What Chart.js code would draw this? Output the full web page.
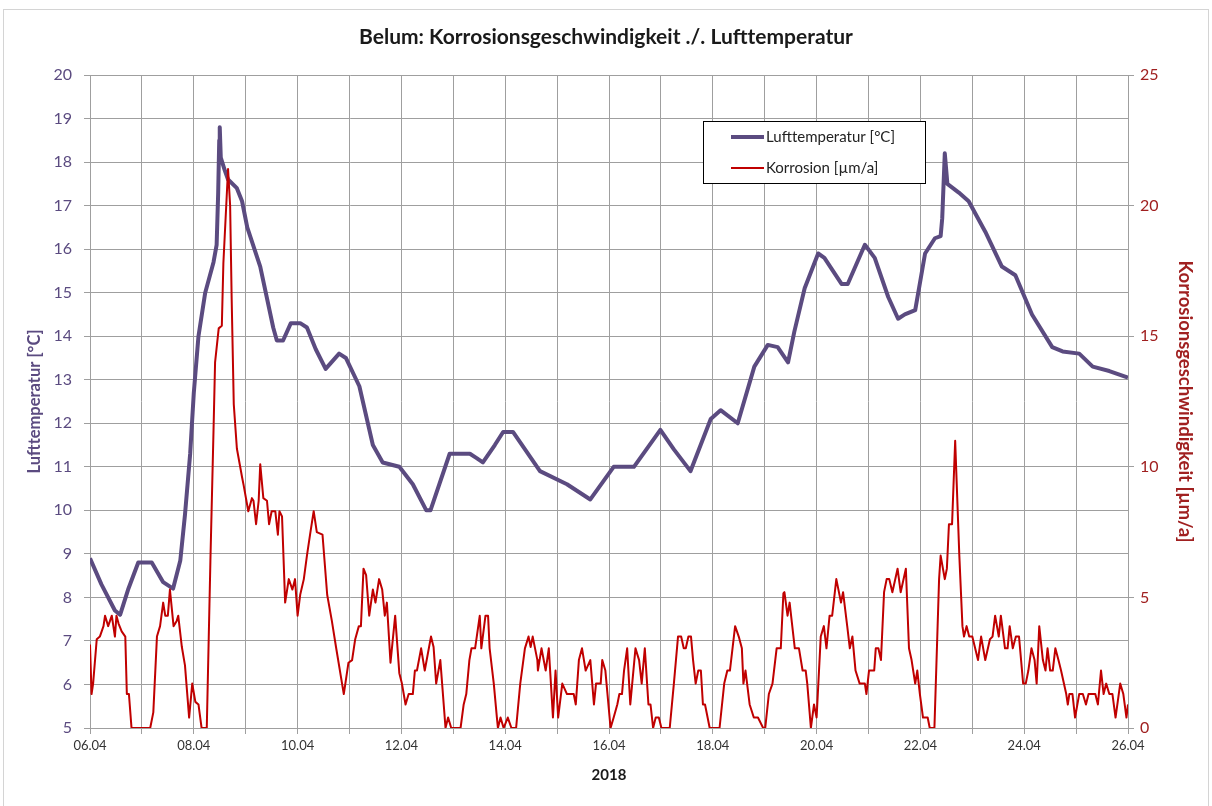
<!DOCTYPE html>
<html lang="de">
<head>
<meta charset="UTF-8">
<title>Belum: Korrosionsgeschwindigkeit ./. Lufttemperatur</title>
<script src="https://cdn.jsdelivr.net/npm/chart.js"></script>
<style>
  html, body { margin: 0; padding: 0; background: #fff; }
  #wrap { position: relative; width: 1212px; height: 806px; }
</style>
</head>
<body>
<div id="wrap"><canvas id="chart"></canvas></div>
<script>
// day labels, one per grid line (06.04 ... 26.04); every second one is printed
const dayLabels = ['06.04','07.04','08.04','09.04','10.04','11.04','12.04','13.04','14.04','15.04',
  '16.04','17.04','18.04','19.04','20.04','21.04','22.04','23.04','24.04','25.04','26.04'];

// air temperature [°C], time in days since 06.04 00:00
const tempDays = [0, 0.22, 0.48, 0.58, 0.74, 0.93, 1.19, 1.41, 1.6, 1.74, 1.83, 1.93, 2.0, 2.09, 2.22,
  2.38, 2.44, 2.47, 2.49, 2.5, 2.52, 2.6, 2.66, 2.83, 2.93, 3.03, 3.28, 3.53, 3.6, 3.72, 3.87, 4.05,
  4.18, 4.35, 4.54, 4.8, 4.93, 5.19, 5.45, 5.64, 5.96, 6.22, 6.48, 6.56, 6.93, 7.32, 7.45, 7.57, 7.8,
  7.96, 8.15, 8.67, 9.19, 9.64, 10.09, 10.48, 10.99, 11.25, 11.57, 11.96, 12.15, 12.48, 12.8, 13.06,
  13.25, 13.45, 13.57, 13.77, 14.03, 14.15, 14.48, 14.6, 14.93, 15.12, 15.38, 15.57, 15.7, 15.9, 16.09,
  16.28, 16.39, 16.42, 16.47, 16.52, 16.74, 16.93, 17.25, 17.57, 17.83, 18.15, 18.54, 18.74, 19.06,
  19.32, 19.64, 20];
const tempValues = [8.9, 8.3, 7.7, 7.6, 8.2, 8.8, 8.8, 8.35, 8.2, 8.85, 9.9, 11.3, 12.7, 14.0, 15.0,
  15.7, 16.1, 17.3, 18.5, 18.8, 18.1, 17.8, 17.6, 17.4, 17.1, 16.5, 15.6, 14.2, 13.9, 13.9, 14.3, 14.3,
  14.2, 13.7, 13.25, 13.6, 13.5, 12.85, 11.5, 11.1, 11.0, 10.6, 10.0, 10.0, 11.3, 11.3, 11.2, 11.1, 11.5,
  11.8, 11.8, 10.9, 10.6, 10.25, 11.0, 11.0, 11.85, 11.4, 10.9, 12.1, 12.3, 12.0, 13.3, 13.8,
  13.75, 13.4, 14.1, 15.1, 15.9, 15.8, 15.2, 15.2, 16.1, 15.8, 14.9, 14.4, 14.5, 14.6, 15.9,
  16.25, 16.3, 16.7, 18.2, 17.5, 17.3, 17.1, 16.4, 15.6, 15.4, 14.5, 13.75, 13.65, 13.6,
  13.3, 13.2, 13.05];

// corrosion rate [µm/a], time in days since 06.04 00:00
const corrDays = [0, 0.03, 0.06, 0.13, 0.19, 0.26, 0.29, 0.35, 0.42, 0.45, 0.48, 0.51, 0.55, 0.61, 0.68,
  0.71, 0.75, 0.8, 1.16, 1.22, 1.29, 1.35, 1.41, 1.45, 1.5, 1.54, 1.61, 1.67, 1.7, 1.77, 1.83, 1.91,
  1.97, 2.03, 2.09, 2.15, 2.25, 2.32, 2.38, 2.41, 2.48, 2.54, 2.57, 2.66, 2.7, 2.73, 2.77, 2.83, 2.93,
  2.96, 3.05, 3.12, 3.15, 3.2, 3.25, 3.28, 3.34, 3.41, 3.45, 3.5, 3.57, 3.62, 3.65, 3.7, 3.76, 3.83,
  3.9, 3.95, 4.0, 4.05, 4.12, 4.18, 4.24, 4.31, 4.37, 4.48, 4.57, 4.66, 4.74, 4.89, 4.98, 5.05, 5.11,
  5.18, 5.22, 5.27, 5.32, 5.38, 5.45, 5.5, 5.57, 5.63, 5.68, 5.72, 5.79, 5.88, 5.96, 6.01, 6.08, 6.14,
  6.22, 6.26, 6.3, 6.38, 6.45, 6.57, 6.62, 6.67, 6.75, 6.85, 6.9, 6.96, 7.14, 7.2, 7.25, 7.31, 7.35,
  7.42, 7.51, 7.54, 7.62, 7.67, 7.7, 7.78, 7.84, 7.86, 7.91, 7.97, 8.05, 8.12, 8.21, 8.29, 8.38, 8.45,
  8.49, 8.53, 8.62, 8.63, 8.7, 8.78, 8.84, 8.92, 8.97, 9.02, 9.1, 9.19, 9.32, 9.36, 9.42, 9.48, 9.55,
  9.64, 9.71, 9.75, 9.84, 9.87, 9.93, 10.03, 10.09, 10.16, 10.2, 10.25, 10.29, 10.35, 10.41, 10.51,
  10.58, 10.63, 10.69, 10.76, 10.8, 10.85, 10.9, 10.96, 11.01, 11.17, 11.25, 11.33, 11.39, 11.44,
  11.48, 11.53, 11.58, 11.62, 11.67, 11.72, 11.77, 11.81, 11.85, 11.94, 12.13, 12.22, 12.28, 12.33,
  12.43, 12.5, 12.56, 12.59, 12.63, 12.71, 12.79, 12.87, 12.97, 13.01, 13.08, 13.15, 13.23, 13.31,
  13.36, 13.38, 13.44, 13.48, 13.58, 13.66, 13.73, 13.79, 13.82, 13.89, 13.95, 14.0, 14.08, 14.14,
  14.19, 14.25, 14.3, 14.38, 14.43, 14.47, 14.51, 14.59, 14.64, 14.69, 14.75, 14.83, 14.93, 14.96,
  15.01, 15.11, 15.14, 15.19, 15.24, 15.3, 15.35, 15.4, 15.46, 15.56, 15.62, 15.72, 15.78, 15.83,
  15.9, 15.94, 15.99, 16.05, 16.14, 16.18, 16.27, 16.36, 16.39, 16.47, 16.51, 16.55, 16.61, 16.67,
  16.75, 16.81, 16.84, 16.89, 16.94, 17.0, 17.11, 17.17, 17.25, 17.34, 17.39, 17.44, 17.51, 17.55,
  17.63, 17.68, 17.72, 17.78, 17.84, 17.9, 17.98, 18.03, 18.08, 18.14, 18.2, 18.24, 18.29, 18.36,
  18.41, 18.45, 18.5, 18.55, 18.6, 18.66, 18.71, 18.81, 18.84, 18.87, 18.93, 18.98, 19.06, 19.13,
  19.19, 19.24, 19.37, 19.42, 19.48, 19.53, 19.58, 19.64, 19.7, 19.76, 19.85, 19.91, 19.97, 20.0];
const corrValues = [3.2, 1.3, 1.7, 3.4, 3.5, 3.9, 4.3, 3.9, 4.3, 3.9, 3.5, 4.3, 4.0, 3.7, 3.5,
  1.3, 1.3, 0, 0, 0.6, 3.5, 3.9, 4.8, 4.3, 4.3, 5.3, 3.9, 4.1, 4.3, 3.1, 2.4, 0.4,
  1.7, 1.0, 0.9, 0, 0, 6.4, 11.4, 14.0, 15.3, 15.4, 17.8, 21.4, 20.0, 16.4, 12.4, 10.7, 9.6,
  9.3, 8.3, 8.8, 8.7, 7.8, 8.7, 10.1, 8.8, 8.7, 7.8, 8.3, 8.3, 7.4, 8.3, 8.1, 4.8, 5.7,
  5.3, 5.7, 4.3, 5.1, 5.7, 6.6, 7.4, 8.3, 7.5, 7.4, 5.1, 4.1, 3.1, 1.3, 2.5, 2.6, 3.4,
  3.9, 3.9, 6.1, 5.85, 4.3, 5.3, 4.8, 5.7, 5.3, 4.3, 4.8, 2.5, 4.3, 2.1, 1.7, 0.9, 1.3,
  1.3, 2.2, 2.2, 3.05, 2.2, 3.5, 3.1, 1.7, 2.6, 0, 0.4, 0, 0, 0.9, 1.3, 2.6, 3.05,
  3.05, 4.3, 3.05, 4.3, 4.3, 3.05, 1.7, 0.4, 0, 0.4, 0, 0.4, 0, 0, 1.7, 3.05, 3.5,
  3.1, 3.5, 2.6, 2.2, 3.05, 2.2, 3.05, 0.4, 2.2, 0.4, 1.7, 1.3, 1.3, 0.9, 2.6, 3.05, 2.2,
  2.6, 0.9, 1.7, 1.7, 2.6, 2.2, 0, 0.4, 0.9, 1.3, 1.3, 2.2, 3.05, 0.9, 3.05,
  2.6, 1.7, 3.05, 0.9, 0.9, 0, 0.4, 0.4, 0, 0, 1.7, 3.5, 3.5, 3.05,
  3.05, 3.5, 3.5, 2.6, 1.7, 2.2, 2.2, 0.9, 0.9, 0, 0, 1.7, 2.2, 2.2,
  3.9, 3.5, 3.05, 1.7, 2.2, 0.9, 0.4, 0.4, 0, 0, 1.3, 1.7, 3.05, 3.05,
  5.15, 5.2, 4.3, 4.8, 3.05, 3.05, 2.2, 2.2, 1.7, 0, 0.9, 0.4, 3.5, 3.9,
  3.05, 4.3, 4.3, 5.7, 5.2, 4.8, 5.2, 3.9, 3.05, 3.5, 2.2, 1.7, 1.7, 1.3,
  2.2, 2.2, 3.05, 3.05, 2.6, 5.2, 5.7, 5.7, 5.2, 6.1, 5.2, 6.1, 3.05, 2.6,
  1.7, 2.2, 1.3, 0.4, 0.4, 0, 0, 5.7, 6.6, 5.7, 6.1, 7.8, 7.8, 11.0,
  6.6, 3.9, 3.5, 3.9, 3.5, 3.5, 2.6, 3.5, 2.6, 3.4, 3.5, 4.3, 3.5, 4.3,
  3.05, 3.05, 3.9, 3.05, 3.5, 3.5, 1.7, 1.7, 2.2, 3.05, 2.6, 1.7, 3.9, 2.6,
  2.2, 3.05, 2.2, 2.2, 3.05, 2.6, 2.2, 1.3, 0.9, 1.3, 1.3, 0.4, 1.3, 1.3,
  0.9, 1.3, 1.3, 0.9, 2.2, 1.3, 1.7, 1.3, 1.3, 0.4, 1.7, 1.3, 0.4, 0.9];

const TEMP_COLOR = '#5b4b80';
const CORR_COLOR = '#c00000';
const GRID_COLOR = '#9f9f9f';

Chart.defaults.font.family = 'Lato, "Open Sans", sans-serif';

const toPoints = (xs, ys) => xs.map((x, i) => ({ x: x, y: ys[i] }));

// white background and thin outer frame
const chartFrame = {
  id: 'chartFrame',
  beforeDraw(chart) {
    const ctx = chart.ctx;
    ctx.save();
    ctx.fillStyle = '#ffffff';
    ctx.fillRect(0, 0, chart.width, chart.height);
    ctx.strokeStyle = '#d4d4d4';
    ctx.lineWidth = 1;
    ctx.strokeRect(3.5, 9.5, chart.width - 7, chart.height - 5);
    ctx.restore();
  }
};

// boxed legend inside the plot, like the spreadsheet original
const boxLegend = {
  id: 'boxLegend',
  afterDatasetsDraw(chart) {
    const ctx = chart.ctx;
    const x = 703, y = 121, w = 222, h = 62;
    ctx.save();
    ctx.fillStyle = '#ffffff';
    ctx.fillRect(x, y, w, h);
    ctx.strokeStyle = '#000000';
    ctx.lineWidth = 1;
    ctx.strokeRect(x + 0.5, y + 0.5, w, h);
    ctx.font = '15px Lato, "Open Sans", sans-serif';
    ctx.textBaseline = 'middle';
    ctx.fillStyle = '#222222';
    chart.data.datasets.forEach((ds, i) => {
      const rowY = y + 16 + i * 31;
      ctx.strokeStyle = ds.borderColor;
      ctx.lineWidth = ds.borderWidth;
      ctx.beginPath();
      ctx.moveTo(x + 28, rowY);
      ctx.lineTo(x + 61, rowY);
      ctx.stroke();
      ctx.fillText(ds.label, x + 63, rowY);
    });
    ctx.restore();
  }
};

new Chart(document.getElementById('chart'), {
  type: 'line',
  data: {
    datasets: [
      {
        label: 'Lufttemperatur [°C]',
        data: toPoints(tempDays, tempValues),
        yAxisID: 'yT',
        borderColor: TEMP_COLOR,
        borderWidth: 4,
        pointRadius: 0,
        tension: 0,
        borderJoinStyle: 'round',
        order: 1
      },
      {
        label: 'Korrosion [µm/a]',
        data: toPoints(corrDays, corrValues),
        yAxisID: 'yC',
        borderColor: CORR_COLOR,
        borderWidth: 2,
        pointRadius: 0,
        tension: 0,
        borderJoinStyle: 'round',
        order: 0
      }
    ]
  },
  options: {
    responsive: true,
    maintainAspectRatio: false,
    animation: false,
    layout: { padding: 0 },
    plugins: {
      legend: { display: false },
      tooltip: { enabled: false },
      title: {
        display: true,
        text: 'Belum: Korrosionsgeschwindigkeit ./. Lufttemperatur',
        color: '#1a1a1a',
        font: { size: 21, weight: 'bold' },
        lineHeight: 1.2,
        padding: { top: 25, bottom: 24.8 }
      }
    },
    scales: {
      x: {
        type: 'linear',
        min: 0,
        max: 20,
        afterFit: (s) => { s.height = 78; },
        ticks: {
          stepSize: 1,
          autoSkip: false,
          maxRotation: 0,
          padding: 4,
          color: '#333333',
          font: { size: 13 },
          callback: (v) => (v % 2 === 0 ? dayLabels[v] : '')
        },
        grid: { color: GRID_COLOR, tickLength: 6, tickColor: GRID_COLOR },
        border: { color: GRID_COLOR },
        title: {
          display: true,
          text: '2018',
          color: '#1a1a1a',
          font: { size: 15, weight: 'bold' },
          padding: { top: 0, bottom: 22 }
        }
      },
      yT: {
        position: 'left',
        min: 5,
        max: 20,
        afterFit: (s) => { s.width = 90; },
        ticks: { stepSize: 1, padding: 12, color: TEMP_COLOR, font: { size: 16 } },
        grid: { color: GRID_COLOR, tickLength: 6, tickColor: GRID_COLOR },
        border: { color: GRID_COLOR },
        title: {
          display: true,
          text: 'Lufttemperatur [°C]',
          color: TEMP_COLOR,
          font: { size: 16.5, weight: 'bold' },
          padding: { top: 25, bottom: 0 }
        }
      },
      yC: {
        position: 'right',
        min: 0,
        max: 25,
        afterFit: (s) => { s.width = 84; },
        ticks: { stepSize: 5, padding: 6, color: '#a02020', font: { size: 16 } },
        grid: { drawOnChartArea: false, tickLength: 6, tickColor: GRID_COLOR },
        border: { color: GRID_COLOR },
        title: {
          display: true,
          text: 'Korrosionsgeschwindigkeit [µm/a]',
          color: '#a02020',
          font: { size: 18.5, weight: 'bold' },
          padding: { top: 16, bottom: 0 }
        }
      }
    }
  },
  plugins: [chartFrame, boxLegend]
});
</script>
</body>
</html>
